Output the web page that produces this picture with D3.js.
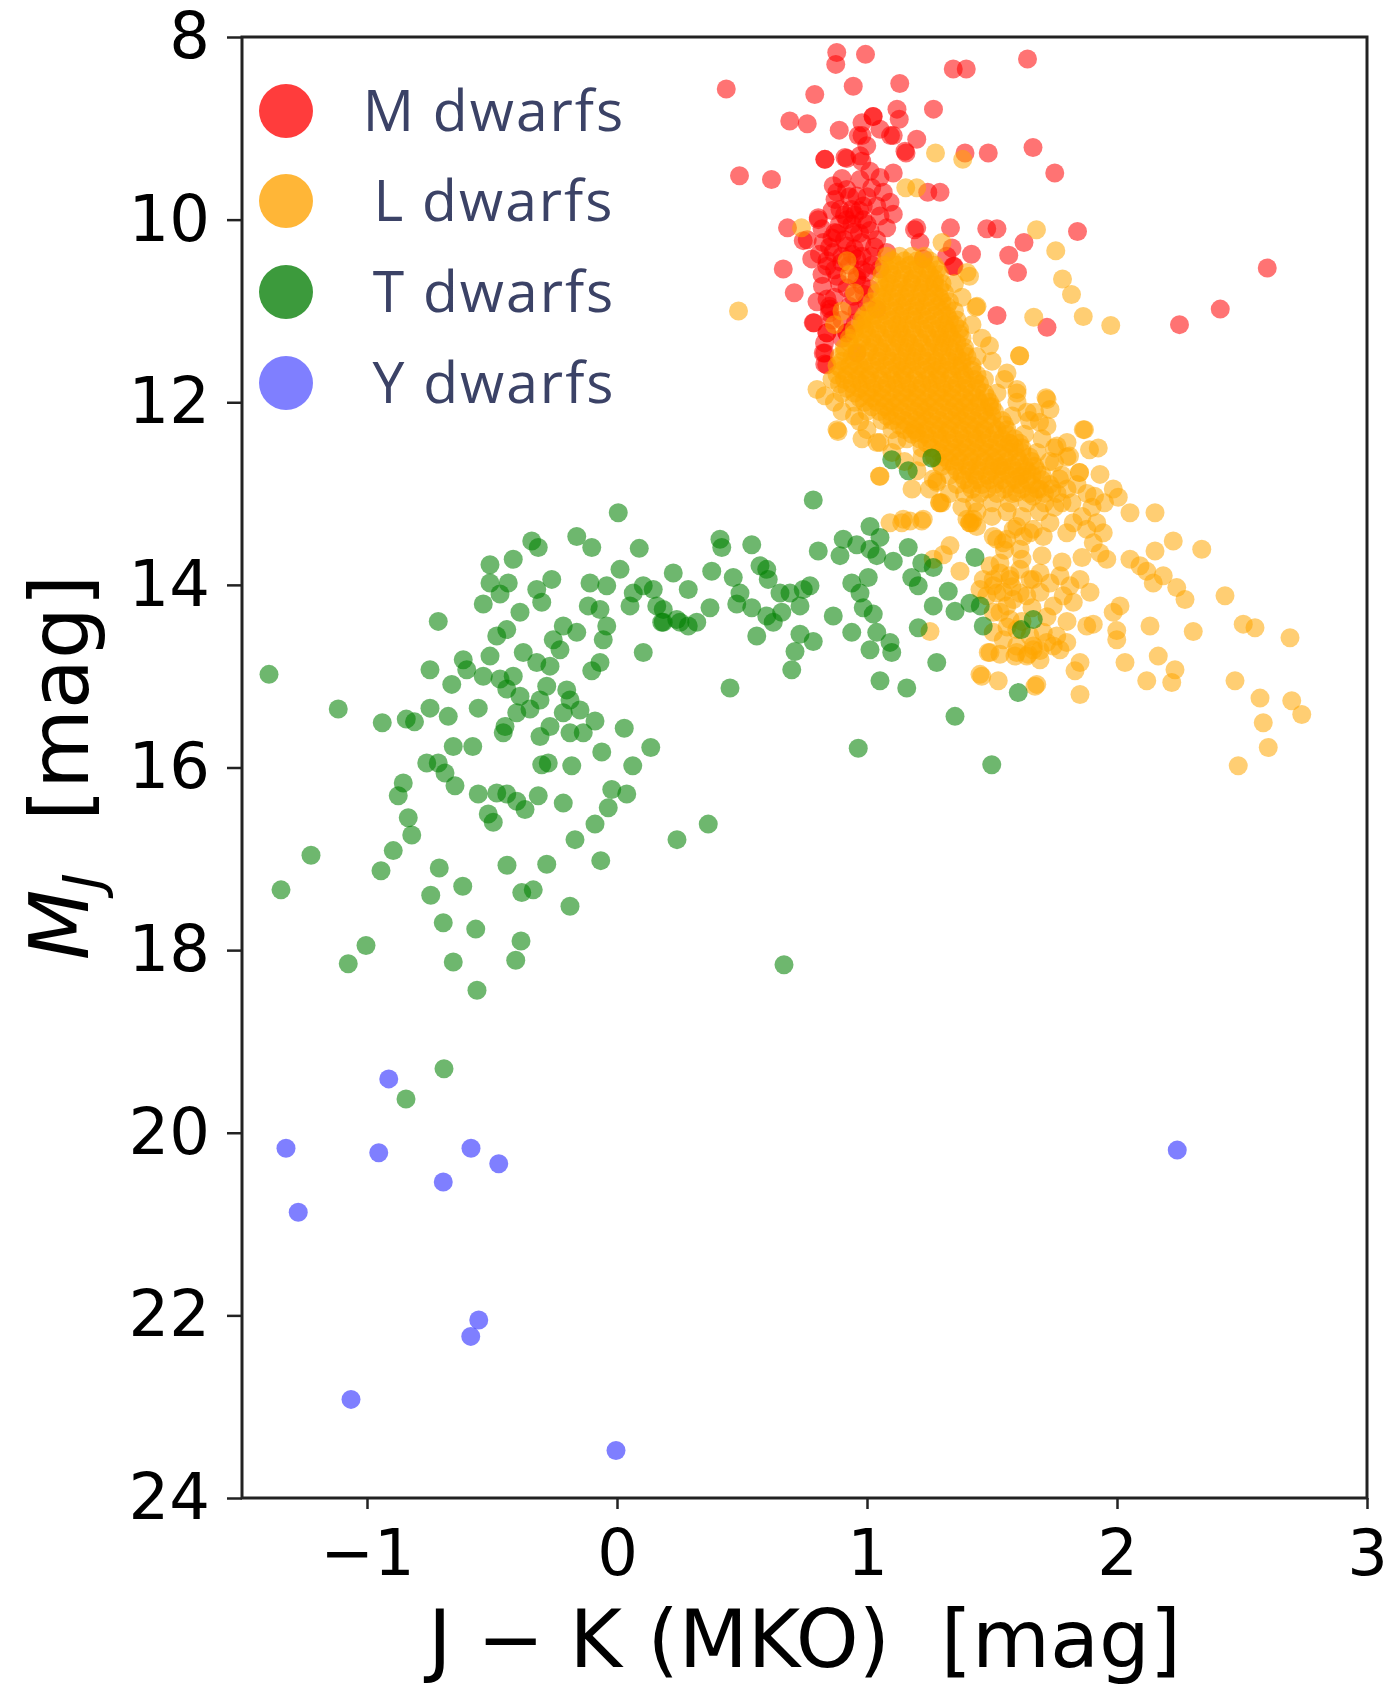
<!DOCTYPE html>
<html>
<head>
<meta charset="utf-8">
<script src="https://cdn.jsdelivr.net/npm/d3@7"></script>
<style>
body { margin: 0; background: #fff; }
text { white-space: pre; }
</style>
</head>
<body>
<div id="chart"></div>
<script>
// data, each point is [J-K, M_J]
var mDwarfs = [
    [0.437,8.57],[0.879,8.17],[0.875,8.30],[0.994,8.19],[1.642,8.24],[1.345,8.35],[1.397,8.35],[0.791,8.63],
    [0.945,8.54],[1.131,8.51],[1.266,8.79],[0.691,8.92],[0.761,8.95],[0.889,9.02],[1.024,8.87],[0.98,8.94],
    [1.12,8.79],[1.129,8.90],[0.98,9.08],[1.094,9.08],[1.199,9.12],[1.156,9.27],[1.664,9.21],[1.751,9.49],
    [0.49,9.52],[0.618,9.56],[1.392,9.27],[1.485,9.27],[0.831,9.34],[0.919,9.33],[0.972,9.30],[1.243,9.70],
    [1.292,9.70],[0.682,10.09],[0.805,10.0],[1.19,10.11],[1.334,10.09],[1.479,10.10],[1.52,10.10],[1.842,10.13],
    [1.628,10.25],[1.567,10.39],[1.602,10.58],[1.34,10.31],[1.418,10.38],[1.348,10.51],[0.665,10.54],[0.709,10.80],
    [0.761,10.22],[1.52,11.05],[1.72,11.18],[2.25,11.15],[2.413,10.98],[2.601,10.53],[0.788,11.13],[0.84,11.24],
    [0.831,11.46],[0.831,11.58],[0.919,11.24],[0.954,11.13],[0.849,11.02],[0.822,10.73],[0.84,10.87],
    [1.025,8.87],[1.052,9.01],[1.105,9.08],[0.965,9.08],[0.999,9.19],[1.152,9.25],
    [0.832,9.34],[0.912,9.32],[0.979,9.36],[1.012,9.47],[0.972,9.56],[1.052,9.54],[1.105,9.49],
    [0.865,9.63],[0.919,9.67],[0.959,9.74],[1.019,9.65],[1.065,9.70],[1.092,9.81],[1.039,9.85],[0.985,9.85],
    [0.939,9.89],[0.892,9.89],[0.872,9.78],[0.919,10.0],[0.985,10.0],[1.052,9.96],[1.105,9.94],[0.805,9.98],
    [0.872,10.14],[0.945,10.14],[1.012,10.12],[1.079,10.09],[0.745,10.23],[0.779,10.43],[0.825,10.25],[0.865,10.36],
    [0.919,10.29],[0.979,10.25],[1.039,10.22],[0.839,10.51],[0.899,10.47],[0.959,10.43],[1.019,10.40],[1.079,10.36],
    [0.999,10.58],[1.052,10.54],[0.959,10.65],[1.012,10.76],[0.945,10.84],[0.999,10.91],[1.039,10.98],
    [0.852,10.98],[0.785,11.13],[0.839,11.24],[0.919,11.24],[0.825,11.46],[0.839,11.59],[0.959,11.46],
    [1.199,10.09],[1.212,10.25],[1.225,10.43],[1.319,10.40],[1.345,10.51],
    [0.89,10.05],[0.95,10.32],[0.88,10.62],[0.92,10.75],[0.98,10.55],[0.86,10.2],[0.9,10.4],[0.97,10.15],
    [1.03,10.3],[0.95,9.95],[1.0,9.75],[0.9,9.55],[0.87,10.85],[0.93,10.95],[0.98,10.72],[0.9,11.1],
    [0.82,10.1],[0.85,10.3],[0.88,10.15],[0.91,10.22],[0.84,10.45],[0.87,10.55],[0.81,10.38],[0.93,10.5],
    [0.96,10.62],[0.89,10.7],[0.85,10.95],[0.82,10.6],[0.94,10.05],[1.0,10.05],[0.97,9.9],[0.93,9.75],
    [0.88,9.7],[0.98,10.4],[0.86,11.1],[0.8,10.9],[0.96,11.0],[0.83,11.35],[0.9,11.3],[1.02,10.5],
    [0.99,10.82],[0.94,10.38],[0.91,9.95],[0.86,9.9]
];

var lDwarfs = [
    [1.274,9.27],[1.383,9.34],[1.155,9.65],[1.199,9.65],[0.738,10.09],[1.678,10.11],[1.755,10.34],[1.782,10.65],
    [1.818,10.82],[1.865,11.06],[1.975,11.16],[1.667,11.07],[0.486,11.0],[1.41,10.62],[1.436,10.96],[1.611,11.49],
    [1.716,11.95],[1.732,12.08],[1.865,12.30],[0.831,11.93],[0.884,12.32],[0.971,12.21],[1.925,12.50],[1.932,12.79],
    [1.052,12.44],[1.052,12.81],[1.199,12.33],[1.265,12.84],
    [1.985,12.95],[2.005,13.04],[2.052,13.21],[2.152,13.21],[2.225,13.52],[2.152,13.63],[2.339,13.61],[2.052,13.72],
    [2.092,13.79],[2.119,13.85],[2.185,13.90],[2.145,13.98],[2.239,14.03],[2.272,14.16],[2.432,14.12],[2.505,14.43],
    [2.552,14.47],[2.692,14.58],[2.305,14.51],[2.132,14.45],[2.165,14.78],[2.232,14.93],[2.219,15.07],[2.119,15.05],
    [2.472,15.05],[2.572,15.24],[2.699,15.27],[2.739,15.42],[2.585,15.51],[2.605,15.78],[2.485,15.98],[2.032,14.85],
    [1.852,15.20],[1.679,15.09],[1.459,15.00],[1.525,15.05],[1.485,14.74],[1.532,14.76],[1.592,14.78],[1.645,14.76],
    [1.692,14.72],[1.852,14.85],[1.832,14.94],[1.999,14.60],[1.999,14.50],[1.985,14.30],[2.012,14.23],[1.879,14.45],
    [1.905,14.43],[1.759,14.56],[1.719,14.63],[1.772,14.71],[1.799,14.63],[1.372,13.85],[1.332,13.57],[1.305,13.67],
    [1.419,13.32],[1.439,13.36],[1.279,12.86],[1.299,13.10],[1.225,13.28],[1.172,13.30],[1.139,13.32],
    [1.505,13.47],[1.545,13.54],[1.585,13.39],[1.625,13.47],[1.665,13.39],[1.705,13.47],[1.732,13.32],[1.799,13.43],
    [1.825,13.32],[1.879,13.39],[1.919,13.32],[1.945,13.43],[1.905,13.54],[1.932,13.65],[1.959,13.72],
    [1.492,13.79],[1.532,13.87],[1.572,13.94],[1.612,13.83],[1.652,13.94],[1.692,13.87],[1.732,13.98],[1.772,13.90],
    [1.812,14.01],[1.852,13.94],[1.892,14.08],[1.825,14.19],[1.785,14.12],[1.745,14.23],[1.692,14.08],[1.639,14.12],
    [1.585,14.16],[1.545,14.08],[1.505,14.01],[1.465,13.94],[1.532,14.30],[1.572,14.38],[1.479,14.12],
    [1.599,14.49],[1.652,14.56],[1.705,14.52],[1.745,14.67],[1.665,14.67],[1.599,14.67],[1.692,14.82],[1.639,14.78],
    [1.545,14.60],[1.505,14.52],
    [1.092,13.32],[1.145,13.28],[1.219,13.30],[1.292,13.10],[1.412,13.32],[1.265,13.72],[1.252,14.51],
    [1.452,14.98],[1.672,15.11],[1.492,14.74],[1.599,14.74],[1.665,14.71],
    [1.505,14.30],[1.559,14.23],[1.612,14.09],[1.665,13.94],[1.572,13.90],[1.532,13.76],[1.612,13.61],[1.505,13.94],
    [1.452,14.05],[1.519,14.09],[1.559,13.50],[1.652,13.43],[1.599,13.36],[1.519,13.50],[1.665,13.03],[1.599,12.99],
    [1.46,11.3],[1.5,11.55],[1.55,11.75],[1.52,11.9],[1.6,12.0],[1.58,12.15],[1.65,12.2],[1.63,12.35],
    [1.7,12.4],[1.68,12.55],[1.75,12.5],[1.73,12.65],[1.8,12.6],[1.78,12.8],[1.84,12.9],[1.88,13.0],
    [1.82,13.1],[1.9,13.15],[1.86,13.25],[1.95,13.1],[1.75,13.15],[1.69,13.2],[1.62,13.25],[1.56,13.2],
    [1.5,13.25],[1.44,13.2],[1.38,13.15],[1.33,13.0],
    [1.60,11.9],[1.64,12.11],[1.69,12.22],[1.76,12.48],[1.81,12.59],[1.85,12.77],[1.77,12.84],[1.69,12.95],
    [1.61,12.81],[1.53,12.70],[1.41,13.32],
    [0.80,11.86],[0.87,12.0],[0.88,12.30],[1.04,12.44],[1.05,12.81],[1.29,13.10],[1.425,13.28],[0.95,12.15],
    [1.0,12.3],[1.1,12.55],[1.15,12.65],[1.2,12.75],[1.25,12.95],[1.18,12.95],[1.28,12.88],[1.29,12.66],[1.40,13.28],
    [1.40,10.58],[1.44,10.95],[1.49,11.38],[1.61,11.49],[1.56,11.68],[1.60,11.86],[1.72,11.97],[1.67,12.11],
    [1.72,12.26],[1.87,12.30],[1.80,12.44],[1.89,12.52],[1.75,12.66],[1.85,12.77],[1.91,13.03],[1.80,12.95],
    [0.93,10.6],[0.95,10.8],[0.9,11.0],[0.87,11.15],[0.92,10.45],
    [1.55,13.62],[1.62,13.72],[1.70,13.68],[1.78,13.75],[1.86,13.70],[1.58,14.02],[1.66,14.25],[1.72,14.35],
    [1.80,14.40],[1.62,14.40],[1.56,14.46],
    [1.30,10.25],[1.35,10.7],[1.38,10.85],[1.42,11.15],[1.44,11.5],[1.47,11.75],[1.50,12.05],[1.57,12.45],
    [0.86,11.75],[0.90,12.1],[0.98,12.4],[1.12,12.42],[1.22,12.6]
];

// saturated L dwarf core, rows of [M_J, J-K, J-K, ...]
var lCoreRows = [
    [10.4, 1.08,1.13,1.18,1.23],
    [10.45, 1.10,1.15,1.20,1.25],
    [10.5, 1.07,1.12,1.17,1.22,1.27],
    [10.55, 1.09,1.14,1.19,1.24,1.28],
    [10.6, 1.06,1.10,1.15,1.20,1.25,1.29],
    [10.65, 1.08,1.13,1.18,1.22,1.27],
    [10.7, 1.05,1.09,1.14,1.18,1.23,1.27,1.30],
    [10.75, 1.07,1.11,1.16,1.21,1.25,1.29],
    [10.8, 1.04,1.08,1.13,1.17,1.22,1.27,1.31],
    [10.85, 1.06,1.10,1.15,1.20,1.24,1.29],
    [10.9, 1.02,1.07,1.12,1.16,1.21,1.26,1.30,1.33],
    [10.95, 1.04,1.09,1.14,1.19,1.23,1.28,1.32],
    [11.0, 1.01,1.06,1.11,1.15,1.20,1.25,1.30,1.35],
    [11.05, 0.99,1.03,1.08,1.13,1.18,1.22,1.27,1.32],
    [11.1, 0.98,1.00,1.05,1.10,1.14,1.19,1.24,1.29,1.33,1.36],
    [11.15, 0.98,1.02,1.07,1.12,1.16,1.21,1.26,1.31,1.35],
    [11.2, 0.95,0.99,1.04,1.09,1.13,1.18,1.23,1.28,1.32,1.37],
    [11.25, 0.95,1.00,1.05,1.10,1.14,1.19,1.24,1.29,1.33,1.37],
    [11.3, 0.93,0.98,1.02,1.07,1.12,1.16,1.21,1.26,1.30,1.34,1.38],
    [11.35, 0.93,0.98,1.03,1.08,1.13,1.17,1.22,1.27,1.31,1.36],
    [11.4, 0.91,0.96,1.01,1.05,1.10,1.15,1.19,1.24,1.29,1.33,1.39],
    [11.45, 0.91,0.96,1.01,1.06,1.11,1.16,1.20,1.25,1.30,1.35,1.39],
    [11.5, 0.89,0.94,0.99,1.04,1.08,1.13,1.18,1.22,1.27,1.32,1.36,1.40],
    [11.55, 0.90,0.95,1.00,1.05,1.10,1.14,1.19,1.24,1.28,1.33,1.38],
    [11.6, 0.88,0.93,0.97,1.02,1.07,1.12,1.16,1.21,1.26,1.30,1.35,1.38,1.42],
    [11.65, 0.90,0.95,0.99,1.04,1.09,1.14,1.18,1.23,1.28,1.32,1.37,1.42],
    [11.7, 0.88,0.92,0.97,1.01,1.06,1.11,1.15,1.20,1.25,1.29,1.34,1.39,1.44],
    [11.75, 0.91,0.96,1.00,1.05,1.10,1.14,1.19,1.24,1.28,1.33,1.38,1.43],
    [11.8, 0.89,0.94,0.98,1.03,1.08,1.12,1.17,1.22,1.26,1.31,1.36,1.40,1.45],
    [11.85, 0.92,0.97,1.02,1.06,1.11,1.16,1.20,1.25,1.30,1.34,1.39,1.44],
    [11.9, 0.90,0.95,1.00,1.04,1.09,1.14,1.18,1.23,1.28,1.32,1.37,1.42,1.47],
    [11.95, 0.97,1.02,1.06,1.11,1.16,1.20,1.25,1.30,1.34,1.39,1.44,1.48],
    [12.0, 0.95,0.99,1.04,1.09,1.13,1.18,1.23,1.27,1.32,1.37,1.41,1.45,1.49],
    [12.05, 1.02,1.07,1.11,1.16,1.21,1.25,1.30,1.35,1.39,1.44,1.49],
    [12.1, 1.00,1.05,1.09,1.14,1.19,1.23,1.28,1.33,1.37,1.42,1.47,1.51],
    [12.15, 1.08,1.12,1.17,1.22,1.26,1.31,1.36,1.40,1.45,1.50],
    [12.2, 1.06,1.10,1.15,1.20,1.24,1.29,1.34,1.38,1.43,1.48,1.54],
    [12.25, 1.13,1.17,1.22,1.27,1.31,1.36,1.41,1.45,1.50,1.55],
    [12.3, 1.10,1.15,1.19,1.24,1.29,1.33,1.38,1.43,1.47,1.52,1.56],
    [12.35, 1.18,1.23,1.28,1.32,1.37,1.42,1.46,1.51,1.56],
    [12.4, 1.16,1.21,1.25,1.30,1.35,1.39,1.44,1.49,1.54,1.59],
    [12.45, 1.24,1.29,1.33,1.38,1.43,1.47,1.52,1.57,1.61],
    [12.5, 1.22,1.26,1.31,1.36,1.40,1.45,1.50,1.55,1.59,1.62],
    [12.55, 1.29,1.34,1.38,1.43,1.48,1.52,1.57,1.62],
    [12.6, 1.27,1.31,1.36,1.41,1.45,1.50,1.55,1.60,1.65],
    [12.65, 1.33,1.37,1.42,1.47,1.51,1.56,1.61,1.66],
    [12.7, 1.30,1.35,1.40,1.44,1.49,1.54,1.58,1.63,1.67],
    [12.75, 1.36,1.41,1.45,1.50,1.55,1.60,1.64,1.68],
    [12.8, 1.33,1.38,1.43,1.48,1.52,1.57,1.62,1.66,1.70],
    [12.85, 1.39,1.44,1.49,1.54,1.59,1.64,1.70],
    [12.9, 1.36,1.41,1.46,1.51,1.56,1.61,1.66,1.73],
    [12.95, 1.42,1.48,1.55,1.62,1.68,1.74],
    [13.0, 1.39,1.45,1.52,1.58,1.65,1.71,1.76],
    [13.1, 1.43,1.50,1.57,1.64,1.71,1.78]
];

var tDwarfs = [
    [-1.392,14.98],[-1.115,15.36],[-0.939,15.51],[-0.843,15.47],[-0.81,15.50],[-0.748,15.35],[-0.748,14.93],[-0.675,15.44],
    [-0.715,14.40],[-0.661,15.09],[-0.615,14.82],[-0.601,14.93],[-0.555,15.35],[-0.655,15.77],[-0.577,15.77],[-0.761,15.95],
    [-0.715,15.95],[-0.688,16.06],[-0.648,16.20],[-0.855,16.17],[-0.875,16.31],[-0.835,16.55],[-0.555,16.29],[-0.481,16.28],
    [-0.441,16.29],[-0.401,16.37],[-0.368,16.46],[-0.315,16.31],[-0.515,16.51],[-0.495,16.60],[-0.215,16.39],[-0.301,15.97],
    [-0.275,15.95],[-0.181,15.98],[-0.061,15.83],[0.063,15.98],[0.135,15.78],[0.029,15.57],[0.105,14.74],[-0.021,16.24],
    [0.039,16.29],[-0.035,16.44],[-0.088,16.62],[0.005,13.21],[-0.161,13.47],[-0.101,13.59],[0.089,13.60],[0.225,13.87],
    [-0.341,13.52],[-0.315,13.59],[-0.415,13.72],[-0.508,13.78],[-0.508,13.98],[-0.435,13.98],[-0.535,14.21],[-0.468,14.10],
    [-0.321,14.05],[-0.261,13.94],[-0.301,14.19],[-0.388,14.30],[-0.441,14.49],[-0.481,14.56],[-0.215,14.45],[-0.161,14.52],
    [-0.255,14.60],[-0.228,14.71],[-0.108,13.98],[-0.041,14.01],[0.012,13.83],[0.065,14.09],[0.105,14.01],[0.145,14.05],
    [-0.115,14.23],[-0.068,14.27],[-0.041,14.45],[-0.055,14.60],[-0.068,14.85],[-0.101,14.94],[0.052,14.23],[0.159,14.23],
    [0.185,14.41],[0.239,14.38],[-0.508,14.78],[-0.535,15.00],[-0.468,15.03],[-0.415,15.00],[-0.441,15.14],[-0.388,15.22],
    [-0.401,15.40],[-0.348,15.36],[-0.448,15.55],[-0.455,15.62],[-0.375,14.74],[-0.321,14.85],[-0.268,14.89],[-0.281,15.11],
    [-0.308,15.26],[-0.201,15.15],[-0.188,15.26],[-0.148,15.37],[-0.215,15.40],[-0.268,15.55],[-0.308,15.66],[-0.188,15.62],
    [-0.135,15.62],[-0.088,15.49],
    [0.785,13.07],[0.285,14.05],[0.379,13.85],[0.412,13.50],[0.419,13.59],[0.539,13.56],[0.465,13.92],[0.572,13.79],
    [0.599,13.83],[0.605,13.94],[0.492,14.09],[0.479,14.21],[0.539,14.25],[0.372,14.25],[0.185,14.27],[0.179,14.41],
    [0.252,14.41],[0.285,14.45],[0.319,14.41],[0.652,14.09],[0.692,14.09],[0.745,14.05],[0.772,14.01],[0.732,14.23],
    [0.659,14.30],[0.625,14.41],[0.599,14.34],[0.559,14.56],[0.732,14.54],[0.785,14.62],[0.712,14.73],[0.699,14.93],
    [0.452,15.13],[0.805,13.63],[0.892,13.68],[0.905,13.50],[0.959,13.56],[1.012,13.36],[1.052,13.48],[1.039,13.68],
    [1.012,13.61],[1.105,13.74],[0.939,13.98],[1.005,13.92],[0.972,14.09],[0.985,14.25],[1.025,14.32],[0.865,14.34],
    [0.939,14.52],[1.039,14.52],[1.092,14.63],[1.012,14.71],[1.099,14.74],[1.052,15.05],[1.159,15.13],[0.965,15.79],
    [1.165,13.59],[1.219,13.76],[1.265,13.81],[1.179,13.92],[1.205,14.01],[1.325,14.07],[1.265,14.23],[1.352,14.29],
    [1.412,14.20],[1.432,13.70],[1.465,14.45],[1.205,14.47],[1.279,14.85],[1.352,15.44],[1.499,15.97],[1.605,15.18],
    [1.617,14.49],[1.665,14.38],[0.365,16.62],[0.24,16.79],[1.453,14.23],
    [1.099,12.63],[1.165,12.75],[1.259,12.61],
    [-1.224,16.96],[-1.344,17.34],[-1.004,17.95],[-1.075,18.15],[-0.944,17.13],[-0.895,16.91],[-0.821,16.74],[-0.711,17.10],
    [-0.745,17.40],[-0.617,17.30],[-0.695,17.70],[-0.565,17.77],[-0.655,18.13],[-0.56,18.44],[-0.384,17.90],[-0.405,18.11],
    [-0.44,17.07],[-0.381,17.37],[-0.335,17.34],[-0.281,17.06],[-0.188,17.52],[-0.168,16.79],[-0.065,17.02],
    [0.668,18.16],[-0.692,19.30],[-0.844,19.63]
];

var yDwarfs = [
    [-0.913,19.41],[-1.324,20.17],[-0.953,20.22],[-0.584,20.17],[-0.473,20.34],[-0.695,20.54],[-1.275,20.87],
    [-0.553,22.05],[-0.585,22.23],[-1.064,22.92],[-0.004,23.48],[2.241,20.19]
];

var xTicks = [-1, 0, 1, 2, 3];
var yTicks = [8, 10, 12, 14, 16, 18, 20, 22, 24];
var legendLabels = ['M dwarfs', 'L dwarfs', 'T dwarfs', 'Y dwarfs'];

// flatten the L core rows into points
lCoreRows.forEach(function(row) {
    row.slice(1).forEach(function(jk) { lDwarfs.push([jk, row[0]]); });
});

var series = [
    {name: legendLabels[0], color: '#ff0000', key: '#ff3c3c', pts: mDwarfs, alpha: 0.55},
    {name: legendLabels[1], color: '#ffa500', key: '#ffb637', pts: lDwarfs, alpha: 0.55},
    {name: legendLabels[2], color: '#008000', key: '#3c9a3c', pts: tDwarfs, alpha: 0.57},
    {name: legendLabels[3], color: '#0000ff', key: '#7f7fff', pts: yDwarfs, alpha: 0.5}
];

// setup
var width = 1387, height = 1686;
var margin = {left: 242, top: 37, right: 20, bottom: 188};
var pw = width - margin.left - margin.right;
var ph = height - margin.top - margin.bottom;

var svg = d3.select('#chart').append('svg')
    .attr('width', width).attr('height', height);

var x = d3.scaleLinear().domain([-1.5, 3]).range([margin.left, margin.left + pw]);
var y = d3.scaleLinear().domain([8, 24]).range([margin.top, margin.top + ph]);

// points
series.forEach(function(s) {
    svg.append('g').selectAll('circle')
        .data(s.pts).enter().append('circle')
        .attr('cx', function(d) { return x(d[0]); })
        .attr('cy', function(d) { return y(d[1]); })
        .attr('r', 9.5)
        .attr('fill', s.color)
        .attr('fill-opacity', s.alpha);
});

// axes
var xAxis = svg.append('g')
    .attr('transform', 'translate(0,' + (margin.top + ph) + ')')
    .call(d3.axisBottom(x).tickValues(xTicks).tickFormat(d3.format('d')).tickSize(11).tickPadding(21));
var yAxis = svg.append('g')
    .attr('transform', 'translate(' + margin.left + ',0)')
    .call(d3.axisLeft(y).tickValues(yTicks).tickSize(15).tickPadding(17));

[xAxis, yAxis].forEach(function(a) {
    a.select('.domain').remove();
    a.selectAll('line').attr('stroke', '#222').attr('stroke-width', 2.5);
    a.selectAll('text')
        .attr('fill', '#000')
        .attr('font-family', 'DejaVu Sans')
        .attr('font-size', '64px');
});

// frame
svg.append('rect')
    .attr('x', margin.left).attr('y', margin.top)
    .attr('width', pw).attr('height', ph)
    .attr('fill', 'none')
    .attr('stroke', '#222').attr('stroke-width', 3);

// axis labels
svg.append('text')
    .attr('x', margin.left + pw / 2).attr('y', 1667)
    .attr('text-anchor', 'middle')
    .attr('font-family', 'DejaVu Sans')
    .attr('font-size', '80px')
    .attr('fill', '#000')
    .text('J \u2212 K (MKO)  [mag]');

var ylab = svg.append('text')
    .attr('transform', 'translate(88,' + (margin.top + ph / 2) + ') rotate(-90)')
    .attr('text-anchor', 'middle')
    .attr('font-family', 'DejaVu Sans')
    .attr('font-size', '82px')
    .attr('fill', '#000');
ylab.append('tspan').attr('font-style', 'italic').text('M');
ylab.append('tspan').attr('font-style', 'italic').attr('font-size', '55px').attr('dy', 14).text('J');
ylab.append('tspan').attr('dy', -14).text('  [mag]');

// legend
var legend = svg.selectAll('.legend')
    .data(series).enter().append('g')
    .attr('class', 'legend')
    .attr('transform', function(d, i) {
        return 'translate(0,' + [111, 201, 292, 383][i] + ')';
    });

legend.append('circle')
    .attr('cx', 286).attr('cy', 0)
    .attr('r', 27)
    .attr('fill', function(d) { return d.key; });

legend.append('text')
    .attr('x', 494).attr('y', 20)
    .attr('text-anchor', 'middle')
    .attr('font-family', 'Open Sans')
    .attr('font-size', '57px')
    .attr('letter-spacing', '2px')
    .attr('fill', '#3b4266')
    .text(function(d) { return d.name; });
</script>
</body>
</html>
